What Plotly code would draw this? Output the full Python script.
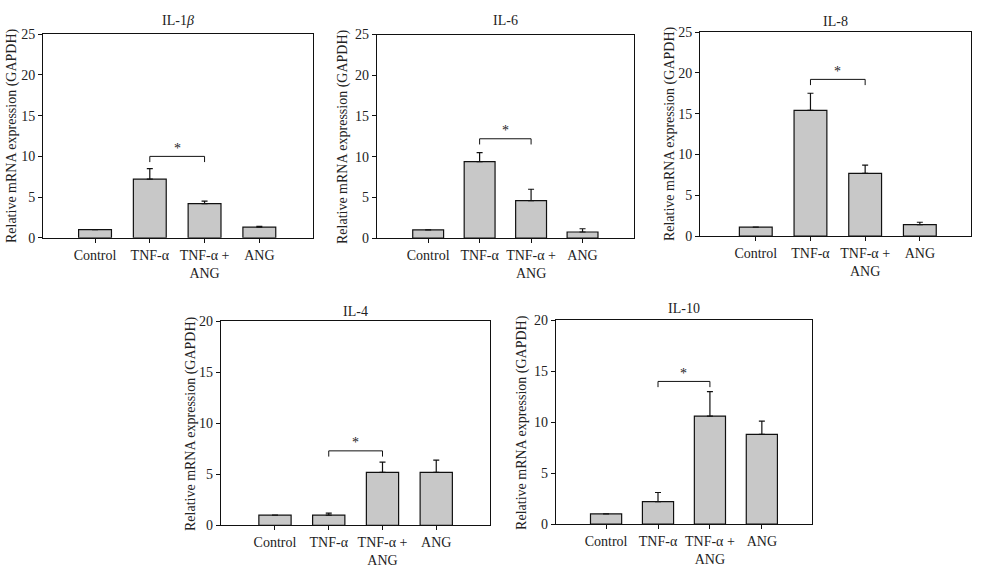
import plotly.graph_objects as go

categories = ["Control", "TNF-α", "TNF-α +<br>ANG", "ANG"]
panel_titles = ["IL-1<i>β</i>", "IL-6", "IL-8", "IL-4", "IL-10"]

il1b_mean = [1.0, 7.2, 4.2, 1.3]
il1b_err = [0.0, 1.3, 0.3, 0.1]
il6_mean = [1.0, 9.4, 4.6, 0.75]
il6_err = [0.0, 1.1, 1.4, 0.4]
il8_mean = [1.1, 15.4, 7.7, 1.4]
il8_err = [0.0, 2.1, 1.0, 0.3]
il4_mean = [1.0, 1.0, 5.2, 5.2]
il4_err = [0.0, 0.2, 1.0, 1.2]
il10_mean = [1.0, 2.2, 10.6, 8.8]
il10_err = [0.0, 0.9, 2.4, 1.3]

y_max = [25, 25, 25, 20, 20]
bracket_y = [10.0, 12.2, 19.2, 7.3, 14.0]
bracket_from = [1, 1, 1, 1, 1]
bracket_to = [2, 2, 2, 2, 2]
y_title = "Relative mRNA expression (GAPDH)"

means = [il1b_mean, il6_mean, il8_mean, il4_mean, il10_mean]
errs = [il1b_err, il6_err, il8_err, il4_err, il10_err]

# layout (pixel boxes -> paper fractions)
W, H = 994, 573
boxes = [
    (43, 313, 28, 237),
    (376.7, 634, 28.3, 237.3),
    (700, 970.7, 25.7, 235.3),
    (220.7, 490, 322.7, 532.3),
    (555.7, 811.7, 321.7, 531),
]
x_ranges = [(-0.95, 3.98), (-1.0, 4.0), (-1.02, 3.93), (-1.01, 4.0), (-0.97, 3.96)]
ytitle_shift = [-31, -33, -30, -29, -34]
title_shift = [14, 14, 11, 10, 12]

FONT = "Liberation Serif"
TXT = "#222222"
FS = 14

fig = go.Figure()
xs = list(range(len(categories)))

for i in range(5):
    ax = "" if i == 0 else str(i + 1)
    fig.add_trace(go.Bar(
        x=xs, y=means[i], xaxis="x" + ax, yaxis="y" + ax,
        width=0.6,
        marker=dict(color="#c8c8c8", line=dict(color="#111111", width=1.2)),
        error_y=dict(type="data", array=errs[i], symmetric=False,
                     arrayminus=[0] * 4, color="#111111", thickness=1.2, width=3),
        showlegend=False,
    ))
    x0, x1, yt, yb = boxes[i]
    axis_common = dict(showline=True, linecolor="#111111", linewidth=1, mirror=True,
                       ticks="outside", ticklen=4, tickcolor="#111111", showgrid=False,
                       zeroline=False, tickfont=dict(family=FONT, size=FS, color=TXT))
    fig.layout["xaxis" + ax] = dict(
        domain=[x0 / W, x1 / W], range=list(x_ranges[i]), anchor="y" + ax,
        tickvals=xs, ticktext=categories, **axis_common)
    fig.layout["yaxis" + ax] = dict(
        domain=[(H - yb) / H, (H - yt) / H], range=[0, y_max[i]], anchor="x" + ax,
        tickvals=list(range(0, y_max[i] + 1, 5)), **axis_common)
    # y-axis title
    fig.add_annotation(text=y_title, xref="x" + ax + " domain", yref="y" + ax + " domain",
                       x=0, y=0.5, xshift=ytitle_shift[i], textangle=-90, showarrow=False,
                       xanchor="center", yanchor="middle",
                       font=dict(family=FONT, size=FS, color=TXT))
    # panel title
    fig.add_annotation(text=panel_titles[i], xref="x" + ax + " domain", yref="y" + ax + " domain",
                       x=0.5, y=1, yshift=title_shift[i], showarrow=False,
                       xanchor="center", yanchor="middle",
                       font=dict(family=FONT, size=FS, color=TXT))
    # significance bracket
    leg = 0.028 * y_max[i]
    by = bracket_y[i]
    a, b = bracket_from[i], bracket_to[i]
    fig.add_shape(type="path",
                  path=f"M {a},{by - leg} L {a},{by} L {b},{by} L {b},{by - leg}",
                  xref="x" + ax, yref="y" + ax, line=dict(color="#111111", width=1))
    fig.add_annotation(text="*", x=(a + b) / 2, y=by, xref="x" + ax, yref="y" + ax,
                       yshift=8, showarrow=False, xanchor="center", yanchor="middle",
                       font=dict(family=FONT, size=FS, color=TXT))

fig.update_layout(width=W, height=H, margin=dict(l=0, r=0, t=0, b=0),
                  plot_bgcolor="white", paper_bgcolor="white", autosize=False)

fig.write_html("out.html", config={"displayModeBar": False},
               post_script="document.body.style.margin='0';")
